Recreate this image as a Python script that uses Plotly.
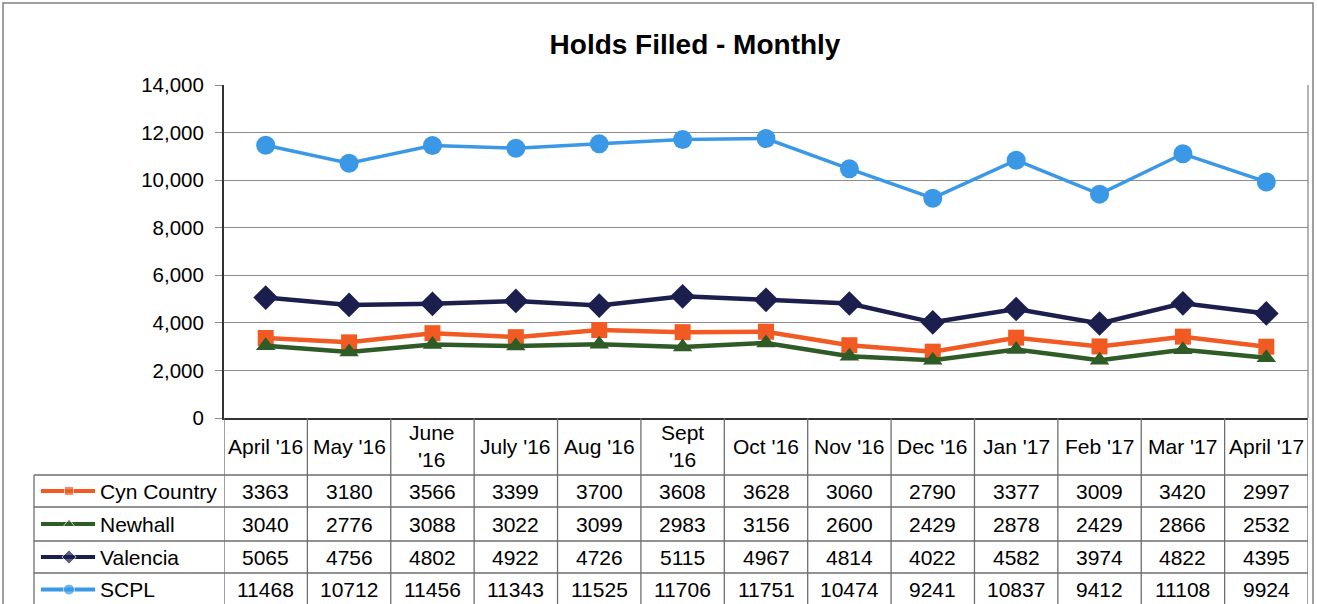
import plotly.graph_objects as go

# ---- data ----
months = ["April '16", "May '16", "June '16", "July '16", "Aug '16", "Sept '16", "Oct '16",
          "Nov '16", "Dec '16", "Jan '17", "Feb '17", "Mar '17", "April '17"]
header_labels = ["April '16", "May '16", "June<br>'16", "July '16", "Aug '16", "Sept<br>'16", "Oct '16",
                 "Nov '16", "Dec '16", "Jan '17", "Feb '17", "Mar '17", "April '17"]
cyn_country = [3363, 3180, 3566, 3399, 3700, 3608, 3628, 3060, 2790, 3377, 3009, 3420, 2997]
newhall = [3040, 2776, 3088, 3022, 3099, 2983, 3156, 2600, 2429, 2878, 2429, 2866, 2532]
valencia = [5065, 4756, 4802, 4922, 4726, 5115, 4967, 4814, 4022, 4582, 3974, 4822, 4395]
scpl = [11468, 10712, 11456, 11343, 11525, 11706, 11751, 10474, 9241, 10837, 9412, 11108, 9924]

# name, values, colour, symbol, marker size, line width, legend-key marker size
series = [
    ("Cyn Country", cyn_country, "#f15a22", "square", 16, 4.5, 9),
    ("Newhall", newhall, "#2e5b26", "triangle-up", 17, 4.5, 10),
    ("Valencia", valencia, "#1c1f4e", "diamond", 19, 4.5, 11),
    ("SCPL", scpl, "#3a98e6", "circle", 19, 3.5, 11),
]

W, H = 1317, 604
FONT = "Liberation Sans, Arial, sans-serif"


def px(x):
    return x / W


def py(y):
    return 1 - y / H


# plot area in pixels
X0, X1, Y_TOP, Y_AX = 224, 1308, 85, 418
ROWS = [475, 507, 541, 573, 606]   # table row boundaries
TBL_L = 34
GRID = "#8c8c8c"
TBL = "#6e6e6e"

fig = go.Figure()

for name, vals, color, symbol, size, lw, ksize in series:
    fig.add_trace(go.Scatter(
        x=months, y=vals, name=name, mode="lines+markers",
        line=dict(color=color, width=lw),
        marker=dict(symbol=symbol, size=size, color=color),
        showlegend=False,
    ))

# legend keys in the table's first column (helper axis in pixel units)
for r, (name, vals, color, symbol, size, lw, ksize) in enumerate(series):
    yc = (ROWS[r] + ROWS[r + 1]) / 2
    fig.add_trace(go.Scatter(
        x=[41, 69, 95], y=[yc, yc, yc], mode="lines+markers",
        line=dict(color=color, width=4),
        marker=dict(symbol=symbol, size=[0, ksize, 0], color=color),
        xaxis="x2", yaxis="y2", showlegend=False, hoverinfo="skip", cliponaxis=False,
    ))

shapes = []
annotations = []

# outer chart border
shapes.append(dict(type="rect", xref="paper", yref="paper", x0=px(3), x1=px(1313), y0=py(620), y1=py(3),
                   line=dict(color="#808080", width=1.5)))

# category boundary lines, running down through the table
for i in range(len(months) + 1):
    shapes.append(dict(type="line", xref="x", yref="paper", x0=i - 0.5, x1=i - 0.5,
                       y0=py(ROWS[-1]), y1=py(Y_AX),
                       line=dict(color=TBL, width=1.3)))
# right border of the plot area
shapes.append(dict(type="line", xref="paper", yref="paper", x0=px(X1), x1=px(X1),
                   y0=py(Y_AX), y1=py(Y_TOP), line=dict(color=GRID, width=1.3)))

# table horizontal rules and left edge
for yb in ROWS[:-1]:
    shapes.append(dict(type="line", xref="paper", yref="paper", x0=px(TBL_L), x1=px(X1),
                       y0=py(yb), y1=py(yb), line=dict(color=TBL, width=1.3)))
shapes.append(dict(type="line", xref="paper", yref="paper", x0=px(TBL_L), x1=px(TBL_L),
                   y0=py(ROWS[-1]), y1=py(ROWS[0]), line=dict(color=TBL, width=1.3)))

# header labels
for i, lab in enumerate(header_labels):
    annotations.append(dict(x=i, xref="x", y=py(446), yref="paper", text=lab, showarrow=False,
                            xanchor="center", yanchor="middle",
                            font=dict(family=FONT, size=21, color="black")))

# table rows
for r, (name, vals, color, symbol, size, lw, ksize) in enumerate(series):
    yc = (ROWS[r] + ROWS[r + 1]) / 2
    annotations.append(dict(x=px(98), xref="paper", y=py(yc), yref="paper", text=name, showarrow=False,
                            xanchor="left", yanchor="middle",
                            font=dict(family=FONT, size=21, color="black")))
    for i, v in enumerate(vals):
        annotations.append(dict(x=i, xref="x", y=py(yc), yref="paper", text=str(v), showarrow=False,
                                xanchor="center", yanchor="middle",
                                font=dict(family=FONT, size=21, color="black")))

fig.update_layout(
    width=W, height=H, autosize=False,
    margin=dict(l=0, r=0, t=0, b=0, pad=0),
    paper_bgcolor="white", plot_bgcolor="rgba(0,0,0,0)",
    font=dict(family=FONT, size=20, color="black"),
    title=dict(text="<b>Holds Filled - Monthly</b>", x=px(695), xanchor="center",
               y=py(44), yanchor="middle", font=dict(family=FONT, size=28, color="black")),
    xaxis=dict(domain=[px(X0), px(X1)], range=[-0.5, len(months) - 0.5], type="category",
               showticklabels=False, showgrid=False, ticks="", showline=True, automargin=False,
               linecolor="#333333", linewidth=2, fixedrange=True),
    yaxis=dict(domain=[py(Y_AX), py(Y_TOP)], range=[0, 14000], dtick=2000, tickformat=",",
               showgrid=True, gridcolor=GRID, gridwidth=1.3, zeroline=False, automargin=False,
               showline=True, linecolor="#333333", linewidth=2,
               ticks="outside", ticklen=7, tickcolor=GRID, ticklabelstandoff=7,
               tickfont=dict(family=FONT, size=20.5, color="black"), fixedrange=True),
    # helper axes covering only the legend column of the table
    xaxis2=dict(domain=[0, px(X0)], range=[0, X0], visible=False, anchor="y2", automargin=False,
                fixedrange=True),
    yaxis2=dict(domain=[0, py(ROWS[0])], range=[H, ROWS[0]], visible=False, anchor="x2",
                automargin=False, fixedrange=True),
    shapes=shapes,
    annotations=annotations,
)

fig.write_html("out.html", config={"displayModeBar": False},
               post_script="document.body.style.margin='0px';")
